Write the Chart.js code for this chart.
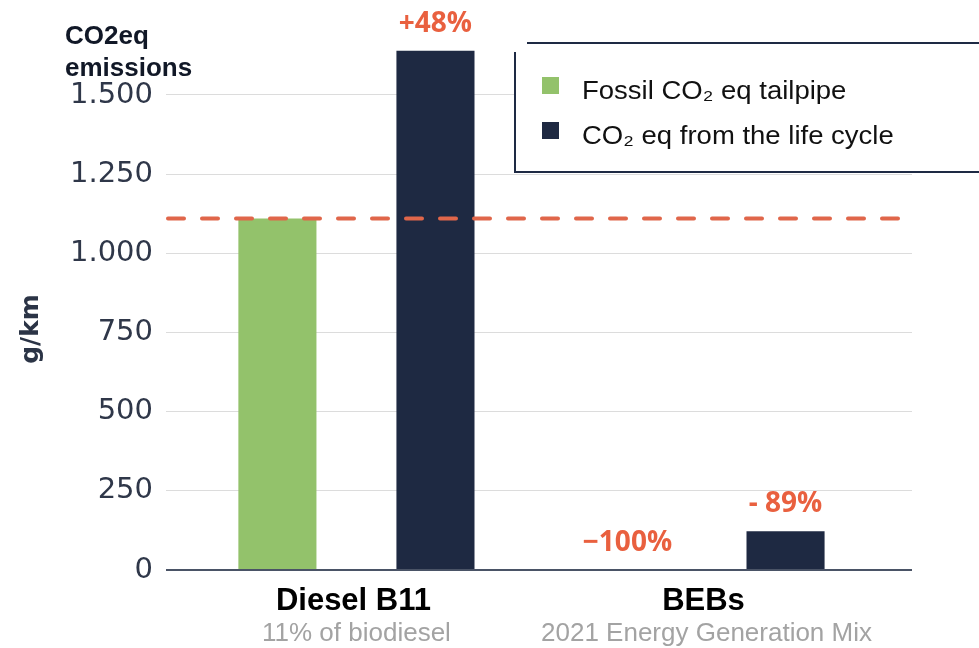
<!DOCTYPE html>
<html>
<head>
<meta charset="utf-8">
<script src="https://cdn.jsdelivr.net/npm/chart.js@4.4.1/dist/chart.umd.min.js"></script>
<style>
  html, body { margin: 0; padding: 0; background: #ffffff; }
  canvas { display: block; }
</style>
</head>
<body>
<canvas id="chart" width="979" height="648"></canvas>
<script>
// Categories and their notes
const categories = ['Diesel B11', 'BEBs'];
const categoryNotes = ['11% of biodiesel', '2021 Energy Generation Mix'];

// Series (g/km of CO2eq)
const seriesNames = ['Fossil CO\u2082 eq tailpipe', 'CO\u2082 eq from the life cycle'];
const tailpipe = [1110, 0];
const lifeCycle = [1640, 122];

// Change against the diesel tailpipe level, per bar
const tailpipeChange = ['', '\u2212100%'];
const lifeCycleChange = ['+48%', '- 89%'];

// Value axis ticks
const yTicks = [0, 250, 500, 750, 1000, 1250, 1500];

// Dashed reference: diesel tailpipe emissions
const referenceLevel = tailpipe[0];

const GREEN = '#93c26b';
const NAVY = '#1e2942';
const ORANGE = '#e9603f';

function thousands(v) {
  return String(v).replace(/\B(?=(\d{3})+(?!\d))/g, '.');
}

const decorations = {
  id: 'decorations',
  afterDatasetsDraw(chart) {
    const { ctx, chartArea, scales: { y } } = chart;

    // dashed reference line
    ctx.save();
    ctx.strokeStyle = '#e0664a';
    ctx.lineWidth = 4;
    ctx.lineCap = 'round';
    ctx.setLineDash([16, 18]);
    const ry = y.getPixelForValue(referenceLevel);
    ctx.beginPath();
    ctx.moveTo(chartArea.left + 2, ry);
    ctx.lineTo(chartArea.right, ry);
    ctx.stroke();
    ctx.restore();

    // change labels above bars
    ctx.save();
    ctx.font = 'bold 28px "Open Sans", sans-serif';
    ctx.fillStyle = ORANGE;
    ctx.textAlign = 'center';
    ctx.textBaseline = 'middle';
    chart.data.datasets.forEach((ds, di) => {
      const meta = chart.getDatasetMeta(di);
      ds.changeLabels.forEach((txt, i) => {
        if (!txt) return;
        const bar = meta.data[i];
        ctx.fillText(txt, bar.x, bar.y - 27);
      });
    });
    ctx.restore();
  },
  afterDraw(chart) {
    const { ctx, scales: { x } } = chart;

    // category labels with notes
    ctx.save();
    ctx.textAlign = 'center';
    ctx.textBaseline = 'middle';
    categories.forEach((name, i) => {
      const cx = x.getPixelForValue(i);
      ctx.font = 'bold 31px "Liberation Sans", Arial, sans-serif';
      ctx.fillStyle = '#000000';
      ctx.fillText(name, cx - 3, 601);
      ctx.font = '26px "Liberation Sans", Arial, sans-serif';
      ctx.fillStyle = '#a3a3a3';
      ctx.fillText(categoryNotes[i], cx, 634);
    });
    ctx.restore();

    // axis titles
    ctx.save();
    ctx.fillStyle = '#111827';
    ctx.font = 'bold 26px "Liberation Sans", Arial, sans-serif';
    ctx.textAlign = 'left';
    ctx.textBaseline = 'alphabetic';
    ctx.fillText('CO2eq', 65, 44);
    ctx.fillText('emissions', 65, 76);
    ctx.restore();

    ctx.save();
    ctx.translate(31, 329);
    ctx.rotate(-Math.PI / 2);
    ctx.fillStyle = '#2b3446';
    ctx.font = 'bold 25px "DejaVu Sans", sans-serif';
    ctx.textAlign = 'center';
    ctx.textBaseline = 'middle';
    ctx.fillText('g/km', 0, 0);
    ctx.restore();

    // legend panel
    ctx.save();
    ctx.fillStyle = '#ffffff';
    ctx.fillRect(515, 43, 464, 129);
    ctx.strokeStyle = '#1e2a44';
    ctx.lineWidth = 2;
    ctx.beginPath();
    ctx.moveTo(527, 43); ctx.lineTo(979, 43);
    ctx.moveTo(515, 52); ctx.lineTo(515, 172); ctx.lineTo(979, 172);
    ctx.stroke();
    const rows = [91, 136];
    chart.data.datasets.forEach((ds, i) => {
      ctx.fillStyle = ds.backgroundColor;
      ctx.fillRect(542, rows[i] - 14, 17, 17);
      ctx.save();
      ctx.translate(582, rows[i] + 1);
      ctx.scale(1.1, 1);
      ctx.fillStyle = '#111111';
      ctx.font = '25px "Liberation Sans", Arial, sans-serif';
      ctx.textAlign = 'left';
      ctx.textBaseline = 'middle';
      ctx.fillText(ds.label, 0, 0);
      ctx.restore();
    });
    ctx.restore();
  }
};

new Chart(document.getElementById('chart'), {
  type: 'bar',
  data: {
    datasets: [
      {
        label: seriesNames[0],
        data: tailpipe.map((v, i) => ({ x: i, y: v })),
        backgroundColor: GREEN,
        changeLabels: tailpipeChange
      },
      {
        label: seriesNames[1],
        data: lifeCycle.map((v, i) => ({ x: i, y: v })),
        backgroundColor: NAVY,
        changeLabels: lifeCycleChange
      }
    ]
  },
  options: {
    responsive: false,
    animation: false,
    devicePixelRatio: 1,
    categoryPercentage: 0.903,
    barPercentage: 0.494,
    layout: { padding: { left: 0, right: 67, top: 0, bottom: 0 } },
    plugins: {
      legend: { display: false },
      tooltip: { enabled: false },
      title: { display: false }
    },
    scales: {
      x: {
        type: 'linear',
        offset: false,
        min: -0.544,
        max: 1.587,
        grid: { display: false },
        border: { display: false },
        ticks: { display: false },
        afterBuildTicks(scale) {
          scale.ticks = categories.map((_, i) => ({ value: i }));
        },
        afterFit(scale) {
          scale.height = 78;
          scale.paddingLeft = 0;
          scale.paddingRight = 0;
        }
      },
      y: {
        min: 0,
        max: 1800,
        border: { display: false },
        grid: {
          drawTicks: false,
          color: (c) => (c.tick && c.tick.value === 0 ? '#4a5366' : '#dcdcdc'),
          lineWidth: (c) => (c.tick && c.tick.value === 0 ? 2 : 1)
        },
        ticks: {
          padding: 13,
          color: '#2f3749',
          font: { family: '"DejaVu Sans", sans-serif', size: 29 },
          callback: (v) => thousands(v)
        },
        afterBuildTicks(scale) {
          scale.ticks = yTicks.map((v) => ({ value: v }));
        },
        afterFit(scale) {
          scale.width = 166;
          scale.paddingTop = 0;
          scale.paddingBottom = 0;
        }
      }
    }
  },
  plugins: [decorations]
});
</script>
</body>
</html>
